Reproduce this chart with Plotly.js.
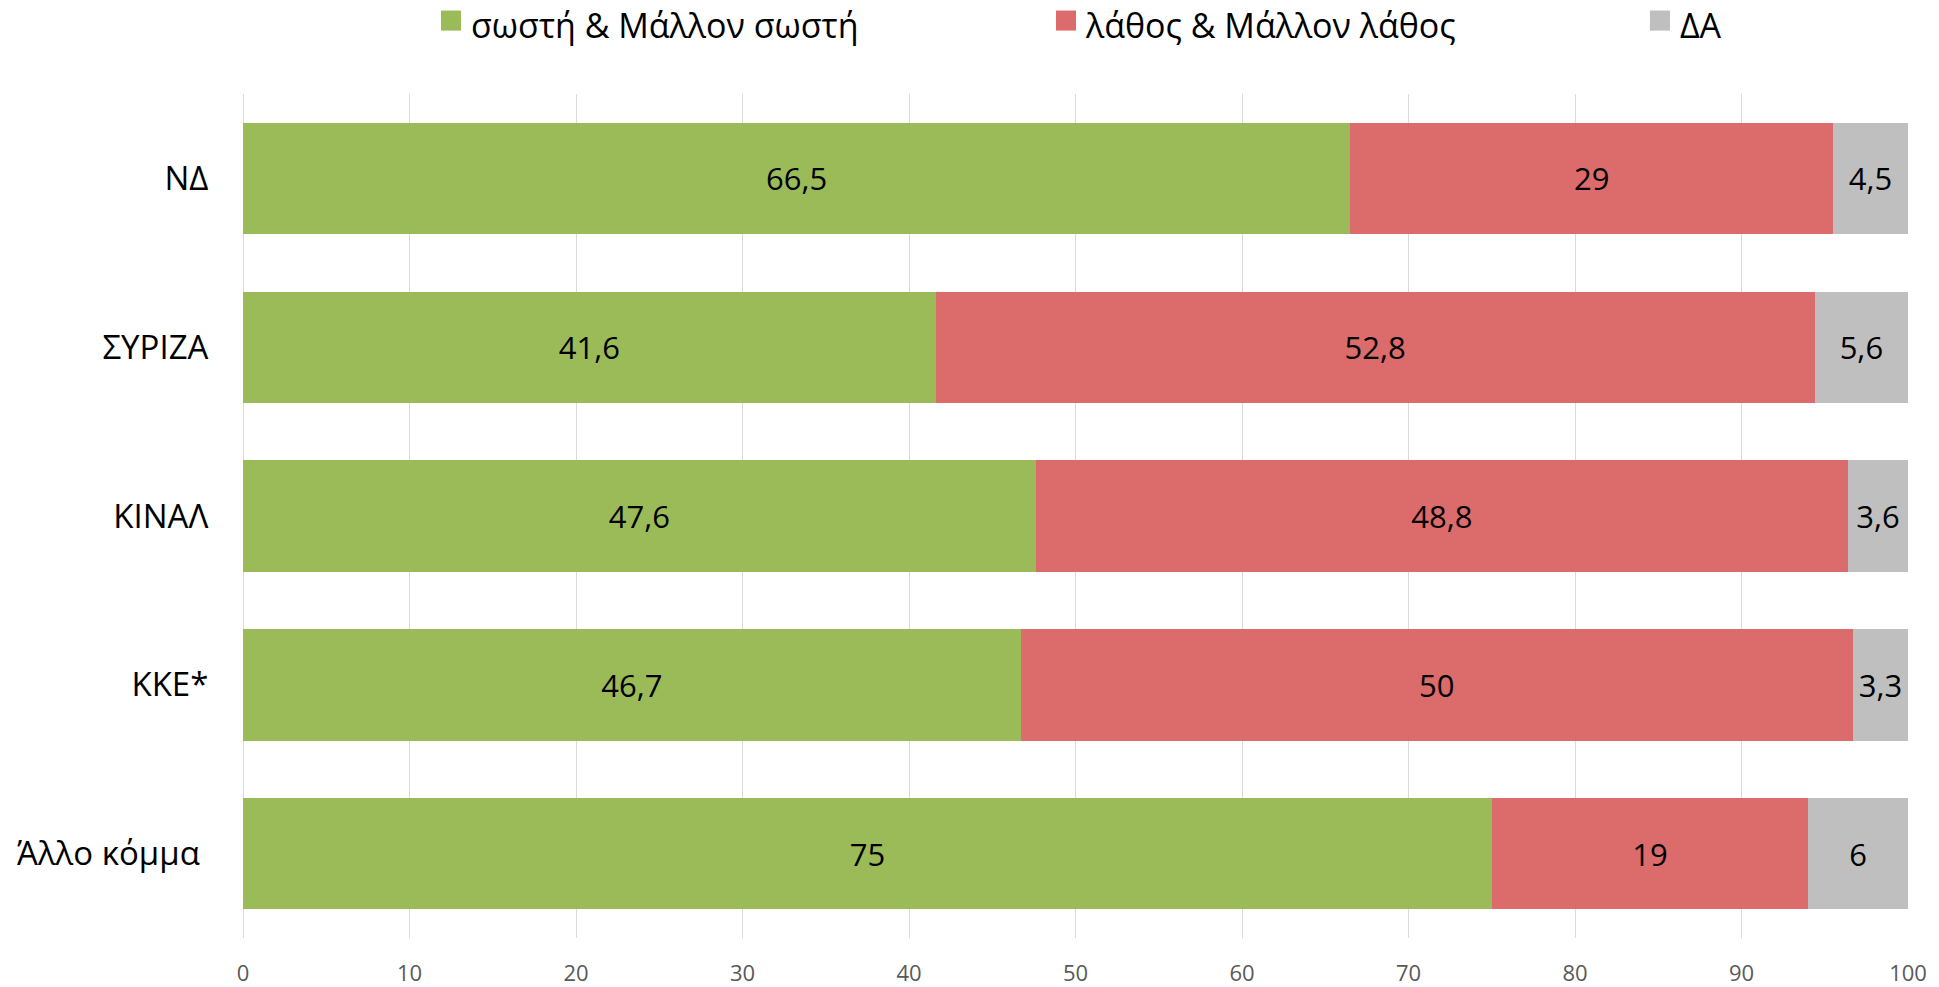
<!DOCTYPE html>
<html>
<head>
<meta charset="utf-8">
<script src="https://cdn.plot.ly/plotly-3.0.1.min.js"></script>
<style>html,body{margin:0;padding:0;background:#fff;}#chart{width:1939px;height:987px;}</style>
</head>
<body>
<div id="chart"></div>
<script>
const categories = ["ΝΔ", "ΣΥΡΙΖΑ", "ΚΙΝΑΛ", "ΚΚΕ*", "Άλλο κόμμα\u00a0"];
const seriesNames = ["σωστή & Μάλλον σωστή", "λάθος & Μάλλον λάθος", "ΔΑ"];
const correctVals = [66.5, 41.6, 47.6, 46.7, 75];
const wrongVals = [29, 52.8, 48.8, 50, 19];
const dkVals = [4.5, 5.6, 3.6, 3.3, 6];
const xTicks = [0, 10, 20, 30, 40, 50, 60, 70, 80, 90, 100];
const colors = ["#9BBB59", "#DC6B6B", "#BFBFBF"];

const FONT = "Open Sans, Noto Sans, sans-serif";
function mk(name, vals, color, legendId) {
  return {
    type: "bar", orientation: "h", name: name, legend: legendId,
    y: categories, x: vals,
    marker: {color: color, line: {width: 0}},
    text: vals, texttemplate: "%{x}",
    textposition: "inside", insidetextanchor: "middle", textangle: 0,
    constraintext: "none",
    insidetextfont: {family: FONT, size: 31, color: "#000000"},
    hoverinfo: "skip"
  };
}
const data = [
  mk(seriesNames[0], correctVals, colors[0], "legend"),
  mk(seriesNames[1], wrongVals, colors[1], "legend2"),
  mk(seriesNames[2], dkVals, colors[2], "legend3")
];
function leg(x) {
  return {
    orientation: "h", xref: "paper", x: x, xanchor: "left",
    yref: "container", y: 0.9747, yanchor: "middle",
    bgcolor: "rgba(0,0,0,0)", borderwidth: 0,
    font: {family: FONT, size: 34, color: "#000000"}
  };
}
const layout = {
  width: 1939, height: 987,
  margin: {l: 243, r: 31, t: 94, b: 49, pad: 0},
  paper_bgcolor: "#ffffff", plot_bgcolor: "#ffffff",
  font: {family: FONT, color: "#000000"},
  separators: ",.",
  barmode: "stack", bargap: 0.34,
  showlegend: true,
  legend: leg(0.1129),
  legend2: leg(0.4823),
  legend3: leg(0.8390),
  xaxis: {
    range: [0, 100], tickvals: xTicks, ticktext: xTicks.map(String),
    showgrid: true, gridcolor: "#D9D9D9", gridwidth: 1,
    zeroline: true, zerolinecolor: "#D9D9D9", zerolinewidth: 1,
    showline: false, ticks: "outside", ticklen: 16, tickcolor: "rgba(0,0,0,0)",
    tickfont: {family: FONT, size: 22, color: "#595959"}, fixedrange: true
  },
  yaxis: {
    type: "category", categoryorder: "array", categoryarray: categories,
    autorange: "reversed", showgrid: false, zeroline: false, showline: false,
    ticks: "outside", ticklen: 27, tickcolor: "rgba(0,0,0,0)",
    tickfont: {family: FONT, size: 33, color: "#000000"}, fixedrange: true
  }
};
Plotly.newPlot("chart", data, layout, {displayModeBar: false, staticPlot: true}).then(function (gd) {
  // enlarge legend squares to match the reference's 20px swatches
  gd.querySelectorAll(".legendpoints path").forEach(function (p) {
    const t = p.getAttribute("transform") || "";
    p.setAttribute("transform", t + " translate(0,-4) scale(1.67)");
  });
});
</script>
</body>
</html>
